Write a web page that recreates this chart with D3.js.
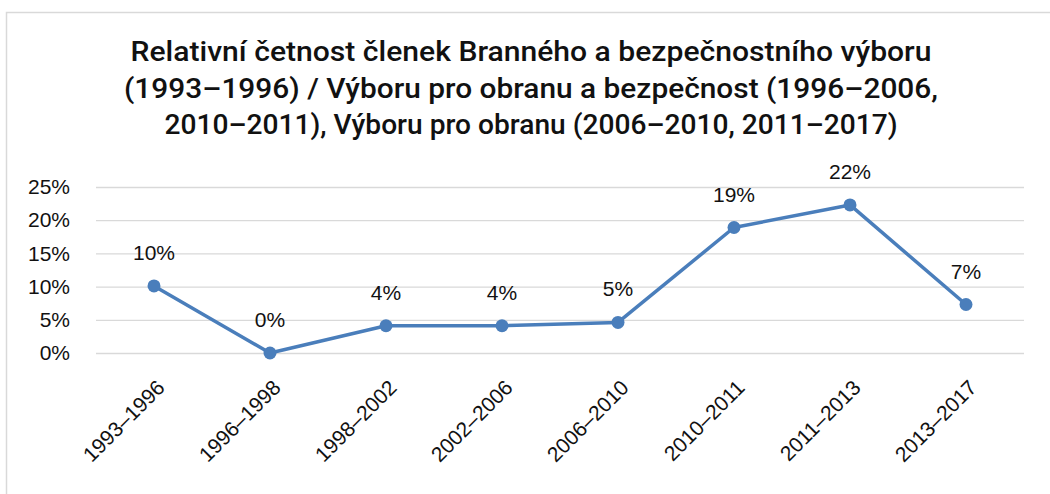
<!DOCTYPE html>
<html><head><meta charset="utf-8">
<script src="https://cdn.jsdelivr.net/npm/d3@7"></script>
<style>body{margin:0;background:#fff}svg{display:block}</style>
</head><body>
<svg id="c" width="1050" height="494"></svg>
<script>
const titleLines = [
  "Relativní četnost členek Branného a bezpečnostního výboru",
  "(1993–1996) / Výboru pro obranu a bezpečnost (1996–2006,",
  "2010–2011), Výboru pro obranu (2006–2010, 2011–2017)"
];
const categories = ["1993–1996","1996–1998","1998–2002","2002–2006","2006–2010","2010–2011","2011–2013","2013–2017"];
const values = [0.101, 0.0, 0.041, 0.041, 0.046, 0.189, 0.223, 0.073];
const valueLabels = ["10%","0%","4%","4%","5%","19%","22%","7%"];
const yTicks = [0, 0.05, 0.10, 0.15, 0.20, 0.25];

const svg = d3.select("#c");
const W = 1050, H = 494;
const m = {left: 96, right: 26, top: 187, bottom: 141};

svg.append("rect").attr("x",6.5).attr("y",12.5).attr("width",1100).attr("height",600)
  .attr("fill","#fff").attr("stroke","#d9d9d9").attr("stroke-width",1.5);

const x = d3.scaleBand().domain(categories).range([m.left, W - m.right]);
const y = d3.scaleLinear().domain([0, 0.25]).range([H - m.bottom, m.top]);

// title
const titleWidths = [801, 814, 733];
svg.append("g").selectAll("text").data(titleLines).join("text")
  .attr("x", 531).attr("y", (d,i) => 61 + i*36.5)
  .attr("text-anchor","middle")
  .attr("font-family","Roboto,'Open Sans',sans-serif")
  .attr("font-size", 27).attr("font-weight", 500).attr("fill","#111")
  .attr("textLength", (d,i) => titleWidths[i]).attr("lengthAdjust","spacingAndGlyphs")
  .text(d => d);

// grid
const yAxis = d3.axisLeft(y).tickValues(yTicks).tickFormat(d3.format(".0%"))
  .tickSize(-(W - m.left - m.right)).tickPadding(26);
const gy = svg.append("g").attr("transform",`translate(${m.left},0)`).call(yAxis);
gy.select(".domain").remove();
gy.selectAll(".tick line").attr("stroke","#d9d9d9").attr("stroke-width",1.3);
gy.selectAll(".tick text").attr("font-family","'Liberation Sans',Arial,sans-serif")
  .attr("font-size",21).attr("fill","#111");

// x axis labels
const xAxis = d3.axisBottom(x).tickSize(0).tickPadding(0);
const gx = svg.append("g").attr("transform",`translate(0,${H - m.bottom})`).call(xAxis);
gx.select(".domain").remove();
gx.selectAll(".tick text")
  .attr("font-family","'Liberation Sans',Arial,sans-serif").attr("font-size",21).attr("fill","#111")
  .attr("text-anchor","end").attr("dy",0).attr("y",0)
  .attr("transform","translate(12,36) rotate(-45)");

// line
const line = d3.line().x((d,i) => x(categories[i]) + x.bandwidth()/2).y(d => y(d));
svg.append("path").datum(values).attr("d", line)
  .attr("fill","none").attr("stroke","#4a7ebb").attr("stroke-width",3.5).attr("stroke-linejoin","round");
svg.append("g").selectAll("circle").data(values).join("circle")
  .attr("cx",(d,i) => x(categories[i]) + x.bandwidth()/2).attr("cy", d => y(d))
  .attr("r",6.5).attr("fill","#4a7ebb");

// value labels
svg.append("g").selectAll("text").data(values).join("text")
  .attr("x",(d,i) => x(categories[i]) + x.bandwidth()/2).attr("y", d => y(d) - 26)
  .attr("text-anchor","middle")
  .attr("font-family","'Liberation Sans',Arial,sans-serif").attr("font-size",21).attr("fill","#111")
  .text((d,i) => valueLabels[i]);
</script>
</body></html>
